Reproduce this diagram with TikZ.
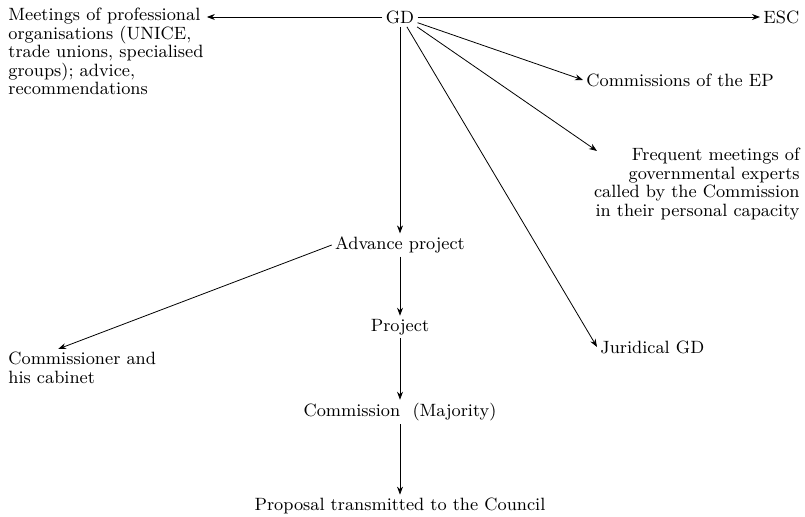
\documentclass[tikz,border=0pt]{standalone}
\usepackage{tikz}
\usetikzlibrary{arrows.meta}

\begin{document}
\begin{tikzpicture}[x=0.5pt,y=-0.5pt,
    lbl/.style={inner sep=1.5pt,font=\fontsize{8.9}{9.2}\selectfont},
    arr/.style={-{Stealth[length=4pt,width=3pt]},thin}]
    \useasboundingbox (0,0) rectangle (805,517);
    \node[lbl] (gd) at (400,17) {GD};
    \node[lbl,anchor=north west,align=left] (meet) at (5,5) {Meetings of professional\\organisations (UNICE,\\trade unions, specialised\\groups); advice,\\recommendations};
    \node[lbl,anchor=west] (esc) at (760,17) {ESC};
    \node[lbl,anchor=west] (ep) at (583,80) {Commissions of the EP};
    \node[lbl,anchor=north east,align=right] (freq) at (803,145) {Frequent meetings of\\governmental experts\\called by the Commission\\in their personal capacity};
    \coordinate (freqtip) at (597,151);
    \node[lbl,anchor=west] (jur) at (597,347) {Juridical GD};
    \node[lbl] (adv) at (400,245) {Advance project};
    \node[lbl,anchor=north west,align=left] (cab) at (5,349) {Commissioner and\\his cabinet};
    \node[lbl] (proj) at (400,327) {Project};
    \node[lbl] (maj) at (400,412) {Commission\ \ (Majority)};
    \node[lbl] (prop) at (400,506) {Proposal transmitted to the Council};

    \draw[arr] (gd.west) -- (gd.west -| meet.east);
    \draw[arr] (gd.east) -- (esc.west);
    \draw[arr] (gd.-18) -- (ep.west);
    \draw[arr] (gd.-30) -- (freqtip);
    \draw[arr] (gd.-55) -- (jur.west);
    \draw[arr] (gd.south) -- (adv.north);
    \draw[arr] (adv.west) -- ([xshift=-12pt]cab.north);
    \draw[arr] (adv.south) -- (proj.north);
    \draw[arr] (proj.south) -- (maj.north);
    \draw[arr] (maj.south) -- (prop.north);
  \end{tikzpicture}
\end{document}
